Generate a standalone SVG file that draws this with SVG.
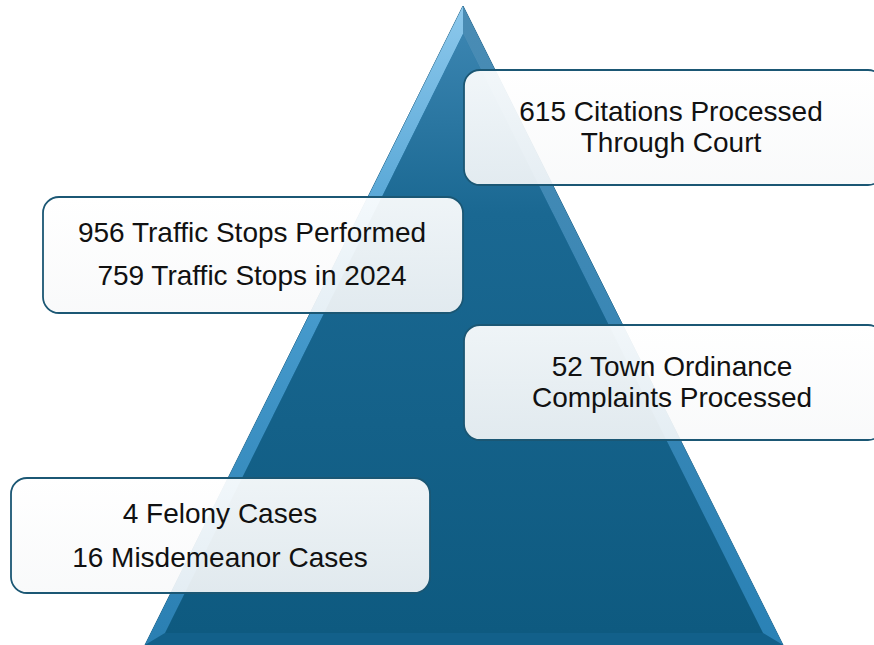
<svg xmlns="http://www.w3.org/2000/svg" width="874" height="645" viewBox="0 0 874 645">
<defs>
<linearGradient id="inner" x1="0" y1="0" x2="0" y2="1">
<stop offset="0" stop-color="#3a84b0"/>
<stop offset="0.3" stop-color="#1a6892"/>
<stop offset="1" stop-color="#0e5a80"/>
</linearGradient>
<linearGradient id="leftFacet" x1="0" y1="0" x2="0" y2="1">
<stop offset="0" stop-color="#8cc8ec"/>
<stop offset="0.4" stop-color="#4a9ed0"/>
<stop offset="1" stop-color="#2a7fb2"/>
</linearGradient>
<linearGradient id="rightFacet" x1="0" y1="0" x2="0" y2="1">
<stop offset="0" stop-color="#4a8cb4"/>
<stop offset="1" stop-color="#2a82b6"/>
</linearGradient>
<linearGradient id="boxFill" x1="0" y1="0" x2="0" y2="1">
<stop offset="0" stop-color="#ffffff" stop-opacity="0.93"/>
<stop offset="1" stop-color="#f8f9fa" stop-opacity="0.9"/>
</linearGradient>
<style>
.box{fill:url(#boxFill);stroke:#1b5774;stroke-width:1.8}
.t{font-family:"Liberation Sans",Arial,sans-serif;font-size:28px;fill:#111;text-anchor:middle}
</style>
</defs>
<g id="pyramid">
<polygon points="463,6 145,645 783,645" fill="#2a7aa8" stroke="#1d5f84" stroke-width="1"/>
<polygon points="463,6 145,645 165,633 463,34" fill="url(#leftFacet)"/>
<polygon points="463,6 783,645 763,633 463,34" fill="url(#rightFacet)"/>
<polygon points="145,645 783,645 763,633 165,633" fill="#12608a"/>
<polygon points="463,34 165,633 763,633" fill="url(#inner)"/>
</g>
<g id="node-citations">
<rect class="box" x="464" y="70" width="420" height="115" rx="16"/>
<text class="t" x="671" y="121">615 Citations Processed</text>
<text class="t" x="671" y="152">Through Court</text>
</g>
<g id="node-traffic">
<rect class="box" x="43" y="197" width="420" height="116" rx="16"/>
<text class="t" x="252" y="242">956 Traffic Stops Performed</text>
<text class="t" x="252" y="285">759 Traffic Stops in 2024</text>
</g>
<g id="node-ordinance">
<rect class="box" x="464" y="325" width="420" height="115" rx="16"/>
<text class="t" x="672" y="376">52 Town Ordinance</text>
<text class="t" x="672" y="407">Complaints Processed</text>
</g>
<g id="node-cases">
<rect class="box" x="11" y="478" width="419" height="115" rx="16"/>
<text class="t" x="220" y="523">4 Felony Cases</text>
<text class="t" x="220" y="567">16 Misdemeanor Cases</text>
</g>
<g id="connectors"/>
</svg>
